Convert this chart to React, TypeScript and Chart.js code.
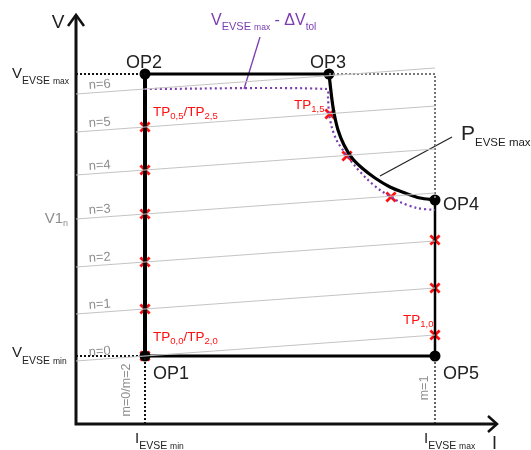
import React, { useEffect, useRef } from "react";
import { Chart, registerables } from "chart.js";
Chart.register(...registerables);

// Diagram units: I and V measured from the axes origin (schematic, not physical units)
const opNames = ["OP1", "OP2", "OP3", "OP4", "OP5"];
const opI = [69, 69, 253, 359, 359];
const opV = [68, 350, 350, 224, 68];

const iEvseMin = 69;
const iEvseMax = 359;
const vEvseMin = 68;
const vEvseMax = 350;

const powerCurveI = [253, 254, 256, 258, 262, 268, 276, 286, 299, 314, 329, 344, 359];
const powerCurveV = [350, 341, 324, 311, 294, 279, 266, 256, 246, 237, 231, 226, 224];

const tolCurveI = [69, 251, 252, 253, 256, 261, 269, 279, 291, 304, 324, 341, 359];
const tolCurveV = [335, 335, 327, 311, 296, 283, 271, 258, 245, 234, 222, 216, 214];

const nLevels = [0, 1, 2, 3, 4, 5, 6];
const nLineStartV = [63, 110, 157, 205, 249, 292, 330];
const nLineEndV = [89, 136, 183, 231, 275, 318, 356];

const tpI = [69, 69, 69, 69, 69, 69, 254, 271, 315, 359, 359, 359];
const tpV = [68, 115, 162, 210, 254, 297, 310, 268, 227, 184, 136, 89];

const axisIMax = 421;
const axisVMax = 409;

const FONT = '"Liberation Sans", Arial, sans-serif';
const RED = "#ff1010";
const PURPLE = "#7a3cb0";
const GRAYTXT = "#8c8c8c";

type Seg = [string, number, number];

function rich(ctx: CanvasRenderingContext2D, x: number, y: number, segs: Seg[], color: string, align = "left") {
  ctx.fillStyle = color;
  ctx.textBaseline = "alphabetic";
  ctx.textAlign = "left";
  let w = 0;
  for (const [t, s] of segs) {
    ctx.font = `${s}px ${FONT}`;
    w += ctx.measureText(t).width;
  }
  let cx = align === "center" ? x - w / 2 : align === "right" ? x - w : x;
  for (const [t, s, dy] of segs) {
    ctx.font = `${s}px ${FONT}`;
    ctx.fillText(t, cx, y + dy);
    cx += ctx.measureText(t).width;
  }
}

const labelsPlugin = {
  id: "labels",
  afterDatasetsDraw(chart: any) {
    const ctx: CanvasRenderingContext2D = chart.ctx;
    const xs = chart.scales.x;
    const ys = chart.scales.y;
    const px = (v: number) => xs.getPixelForValue(v);
    const py = (v: number) => ys.getPixelForValue(v);
    ctx.save();

    // axis labels
    rich(ctx, px(0) - 18, py(axisVMax) + 13, [["V", 19, 0]], "#222", "center");
    rich(ctx, px(axisIMax) - 5, py(0) + 25, [["I", 18, 0]], "#222", "left");

    // OP labels
    rich(ctx, px(opI[1]) - 1, py(opV[1]) - 6, [["OP2", 18, 0]], "#222", "center");
    rich(ctx, px(opI[2]) - 1, py(opV[2]) - 6, [["OP3", 18, 0]], "#222", "center");
    rich(ctx, px(opI[3]) + 8, py(opV[3]) + 10, [["OP4", 18, 0]], "#222", "left");
    rich(ctx, px(opI[4]) + 8, py(opV[4]) + 23, [["OP5", 18, 0]], "#222", "left");
    rich(ctx, px(opI[0]) + 8, py(opV[0]) + 23, [["OP1", 18, 0]], "#222", "left");

    // V / I EVSE labels
    rich(ctx, 12, py(vEvseMax) + 4, [["V", 15, 0], ["EVSE ", 10.5, 6], ["max", 8.5, 6]], "#222");
    rich(ctx, 12, py(vEvseMin) + 1, [["V", 15, 0], ["EVSE ", 10.5, 7], ["min", 8.5, 7]], "#222");
    rich(ctx, px(iEvseMin) - 10, py(0) + 19, [["I", 15, 0], ["EVSE ", 10.5, 6], ["min", 8.5, 6]], "#222");
    rich(ctx, px(iEvseMax) - 11, py(0) + 19, [["I", 15, 0], ["EVSE ", 10.5, 6], ["max", 8.5, 6]], "#222");
    rich(ctx, px(0) - 8, py(nLineStartV[3]) + 4, [["V1", 15, 0], ["n", 9, 3]], GRAYTXT, "right");

    // n labels along lines
    const ang = Math.atan2(py(nLineEndV[0]) - py(nLineStartV[0]), px(iEvseMax) - px(0));
    nLevels.forEach((n, k) => {
      const xv = 24;
      const yv = nLineStartV[k] + ((nLineEndV[k] - nLineStartV[k]) * xv) / iEvseMax;
      ctx.save();
      ctx.translate(px(xv), py(yv) - 4);
      ctx.rotate(ang);
      rich(ctx, 0, 0, [["n=" + n, 13, 0]], GRAYTXT, "center");
      ctx.restore();
    });

    // m labels (vertical)
    ctx.save();
    ctx.translate(px(iEvseMin) - 15, py(vEvseMin / 2));
    ctx.rotate(-Math.PI / 2);
    rich(ctx, 0, 0, [["m=0/m=2", 12.5, 0]], GRAYTXT, "center");
    ctx.restore();
    ctx.save();
    ctx.translate(px(iEvseMax) - 7, py(vEvseMin / 2) - 2);
    ctx.rotate(-Math.PI / 2);
    rich(ctx, 0, 0, [["m=1", 12.5, 0]], GRAYTXT, "center");
    ctx.restore();

    // TP labels
    rich(ctx, px(iEvseMin) + 8, py(tpV[5]) - 11, [["TP", 13.5, 0], ["0,5", 9.5, 3], ["/TP", 13.5, 0], ["2,5", 9.5, 3]], RED);
    rich(ctx, px(iEvseMin) + 8, py(vEvseMin) - 15, [["TP", 13.5, 0], ["0,0", 9.5, 3], ["/TP", 13.5, 0], ["2,0", 9.5, 3]], RED);
    rich(ctx, px(tpI[6]) - 36, py(tpV[6]) - 5, [["TP", 13.5, 0], ["1,5", 9.5, 3]], RED);
    rich(ctx, px(iEvseMax) - 32, py(tpV[11]) - 11, [["TP", 13.5, 0], ["1,0", 9.5, 3]], RED);

    // P EVSE max
    rich(ctx, 461, py(vEvseMax) + 66, [["P", 21, 0], ["EVSE max", 11.5, 6]], "#222");

    // V EVSE max - dV tol
    rich(ctx, 211, 25, [["V", 16, 0], ["EVSE ", 11, 5], ["max", 8.5, 5], [" - ΔV", 16, 0], ["tol", 10, 5]], PURPLE);

    ctx.restore();
  },
};

function line(data: { x: number; y: number }[], color: string, width: number, dash: number[] = [], extra: any = {}) {
  return {
    data,
    showLine: true,
    borderColor: color,
    backgroundColor: color,
    borderWidth: width,
    borderDash: dash,
    pointRadius: 0,
    pointHoverRadius: 0,
    fill: false,
    clip: false,
    ...extra,
  };
}

export default function App() {
  const ref = useRef<HTMLCanvasElement>(null);
  useEffect(() => {
    if (!ref.current) return;
    const pts = (is: number[], vs: number[]) => is.map((x, i) => ({ x, y: vs[i] }));
    const datasets: any[] = [];
    nLevels.forEach((n, k) => {
      datasets.push(line([{ x: 0, y: nLineStartV[k] }, { x: iEvseMax, y: nLineEndV[k] }], "#c4c4c4", 1.2));
    });
    datasets.push(line([{ x: 0, y: vEvseMax }, { x: iEvseMin, y: vEvseMax }], "#111", 2, [2, 2]));
    datasets.push(line([{ x: 0, y: vEvseMin }, { x: iEvseMin, y: vEvseMin }], "#111", 2, [2, 2]));
    datasets.push(line([{ x: iEvseMin, y: 0 }, { x: iEvseMin, y: vEvseMin }], "#111", 2, [2, 2]));
    datasets.push(line([{ x: iEvseMax, y: 0 }, { x: iEvseMax, y: vEvseMin }], "#111", 1.3, [2, 2]));
    datasets.push(
      line([{ x: opI[2], y: vEvseMax }, { x: iEvseMax, y: vEvseMax }, { x: iEvseMax, y: opV[3] }], "#777", 2, [2, 2])
    );
    datasets.push(line(pts(tolCurveI, tolCurveV), PURPLE, 2.2, [2, 3], { tension: 0.3 }));
    // axes
    datasets.push(line([{ x: 0, y: axisVMax }, { x: 0, y: 0 }, { x: axisIMax, y: 0 }], "#111", 3, [], { borderJoinStyle: "miter" }));
    datasets.push(line([{ x: -8, y: axisVMax - 11 }, { x: 0, y: axisVMax }, { x: 8, y: axisVMax - 11 }], "#111", 2.5, [], { borderJoinStyle: "miter" }));
    datasets.push(line([{ x: axisIMax - 9, y: 8 }, { x: axisIMax, y: 0 }, { x: axisIMax - 9, y: -8 }], "#111", 2.5, [], { borderJoinStyle: "miter" }));
    // operating envelope
    datasets.push(line([{ x: opI[0], y: opV[0] }, { x: opI[1], y: opV[1] }], "#000", 4));
    datasets.push(line([{ x: opI[1], y: opV[1] }, { x: opI[2], y: opV[2] }], "#000", 3.2));
    datasets.push(line(pts(powerCurveI, powerCurveV), "#000", 3.2, [], { tension: 0.3 }));
    datasets.push(line([{ x: opI[3], y: opV[3] }, { x: opI[4], y: opV[4] }], "#000", 2.5));
    datasets.push(line([{ x: opI[4], y: opV[4] }, { x: opI[0], y: opV[0] }], "#000", 3.2));
    // leader lines
    datasets.push(line([{ x: 184, y: 387 }, { x: 168, y: 335 }], PURPLE, 1.3));
    datasets.push(line([{ x: 376, y: 287 }, { x: 304, y: 248 }], "#222", 1.2));
    // OP dots
    datasets.push({
      data: pts(opI, opV),
      showLine: false,
      pointRadius: 5.5,
      pointHoverRadius: 5.5,
      pointStyle: "circle",
      backgroundColor: "#000",
      borderColor: "#000",
      borderWidth: 0,
      clip: false,
    });
    // test points
    datasets.push({
      data: pts(tpI, tpV),
      showLine: false,
      pointRadius: 6.5,
      pointHoverRadius: 6.5,
      pointStyle: "crossRot",
      borderColor: RED,
      backgroundColor: RED,
      borderWidth: 2.8,
      clip: false,
    });

    const chart = new Chart(ref.current, {
      type: "scatter",
      data: { datasets },
      options: {
        responsive: false,
        animation: false,
        devicePixelRatio: 1,
        events: [],
        layout: { padding: 0, autoPadding: false },
        plugins: { legend: { display: false }, tooltip: { enabled: false }, title: { display: false } },
        scales: {
          x: { type: "linear", display: false, min: -76, max: 455 },
          y: { type: "linear", display: false, min: -26, max: 424 },
        },
      } as any,
      plugins: [labelsPlugin],
    });
    return () => chart.destroy();
  }, []);
  return (
    <div style={{ position: "fixed", left: 0, top: 0, width: 531, height: 450, background: "#fff" }}>
      <canvas ref={ref} width={531} height={450} style={{ width: 531, height: 450, display: "block" }} />
    </div>
  );
}
